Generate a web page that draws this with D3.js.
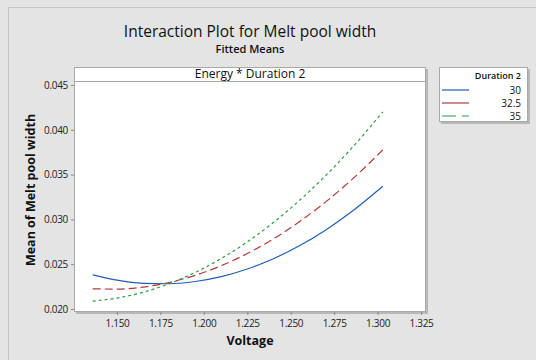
<!DOCTYPE html>
<html>
<head>
<meta charset="utf-8">
<script src="https://cdn.jsdelivr.net/npm/d3@7"></script>
<style>
  body { margin: 0; background: #e4e4e4; }
  svg { display: block; font-family: "Open Sans", "Noto Sans", sans-serif; }
</style>
</head>
<body>
<svg id="chart"></svg>
<script>
const voltage = [1.136, 1.150, 1.165, 1.180, 1.195, 1.210, 1.225, 1.240, 1.255, 1.270, 1.285, 1.303];
const dur30   = [0.02381, 0.02322, 0.02287, 0.02282, 0.02307, 0.02361, 0.02446, 0.02561, 0.02706, 0.02880, 0.03085, 0.03370];
const dur325  = [0.02225, 0.02222, 0.02245, 0.02296, 0.02376, 0.02483, 0.02619, 0.02782, 0.02974, 0.03193, 0.03441, 0.03775];
const dur35   = [0.02088, 0.02122, 0.02187, 0.02282, 0.02408, 0.02563, 0.02749, 0.02965, 0.03211, 0.03487, 0.03793, 0.04200];
const seriesNames = ["30", "32.5", "35"];
const xTicks = [1.150, 1.175, 1.200, 1.225, 1.250, 1.275, 1.300, 1.325];
const yTicks = [0.020, 0.025, 0.030, 0.035, 0.040, 0.045];

const W = 536, H = 360;
const panel = {left: 74, right: 426, top: 67, strip: 81, bottom: 312};

const svg = d3.select('#chart').attr('width', W).attr('height', H);

// outer frame
svg.append('rect').attr('x', 0).attr('y', 0).attr('width', W).attr('height', H).attr('fill', '#e4e4e4');
svg.append('path').attr('d', `M8.5,${H}V7.5H${W}`).attr('fill', 'none').attr('stroke', '#c6c6c6');

// titles
svg.append('text').attr('x', 250).attr('y', 37).attr('text-anchor', 'middle')
  .style('font-size', '15.5px').style('fill', '#111').text('Interaction Plot for Melt pool width');
svg.append('text').attr('x', 250).attr('y', 53).attr('text-anchor', 'middle')
  .style('font-size', '11px').style('font-weight', '600').style('fill', '#111').text('Fitted Means');

const x = d3.scaleLinear().domain([1.150, 1.325]).range([117, 421]);
const y = d3.scaleLinear().domain([0.020, 0.045]).range([309, 85]);

// panel
svg.append('rect').attr('x', panel.left + 2).attr('y', panel.top + 2)
  .attr('width', panel.right - panel.left).attr('height', panel.bottom - panel.top)
  .attr('fill', '#b8b8b8');
svg.append('rect').attr('x', panel.left + 0.5).attr('y', panel.top + 0.5)
  .attr('width', panel.right - panel.left - 1).attr('height', panel.bottom - panel.top - 1)
  .attr('fill', '#fff').attr('stroke', '#a8a8a8');
svg.append('line').attr('x1', panel.left).attr('x2', panel.right)
  .attr('y1', panel.strip + 0.5).attr('y2', panel.strip + 0.5).attr('stroke', '#a8a8a8');
svg.append('text').attr('x', (panel.left + panel.right) / 2).attr('y', panel.strip - 3)
  .attr('text-anchor', 'middle').style('font-size', '12px').style('fill', '#111')
  .text('Energy * Duration 2');

// axes
const xAxis = svg.append('g').attr('transform', `translate(0,${panel.bottom})`)
  .call(d3.axisBottom(x).tickValues(xTicks).tickFormat(d3.format('.3f')).tickSizeOuter(0).tickSize(3));
const yAxis = svg.append('g').attr('transform', `translate(${panel.left},0)`)
  .call(d3.axisLeft(y).tickValues(yTicks).tickFormat(d3.format('.3f')).tickSizeOuter(0).tickSize(3));
[xAxis, yAxis].forEach(g => {
  g.select('.domain').remove();
  g.selectAll('line').attr('stroke', '#888');
  g.selectAll('text').style('font-size', '10px').style('fill', '#222')
    .style('font-family', '"Open Sans", "Noto Sans", sans-serif').style('letter-spacing', '-0.3px');
});
xAxis.selectAll('text').attr('dy', '0.9em');

svg.append('text').attr('x', 250).attr('y', 345).attr('text-anchor', 'middle')
  .style('font-size', '12.5px').style('font-weight', 'bold').style('fill', '#111').text('Voltage');
svg.append('text').attr('transform', 'translate(35,190) rotate(-90)').attr('text-anchor', 'middle')
  .style('font-size', '12.5px').style('font-weight', 'bold').style('fill', '#111')
  .text('Mean of Melt pool width');

// lines
const series = [
  {name: seriesNames[0], values: dur30,  color: '#1f5fb4', dash: null},
  {name: seriesNames[1], values: dur325, color: '#b33a3a', dash: '8,4'},
  {name: seriesNames[2], values: dur35,  color: '#2f9a44', dash: '3,3'}
];
const line = d3.line().x(d => x(d[0])).y(d => y(d[1])).curve(d3.curveMonotoneX);
svg.append('g').selectAll('path').data(series).join('path')
  .attr('d', s => line(voltage.map((v, i) => [v, s.values[i]])))
  .attr('fill', 'none').attr('stroke', s => s.color).attr('stroke-width', 1.2)
  .attr('stroke-dasharray', s => s.dash);

// legend
const lg = svg.append('g');
lg.append('rect').attr('x', 441).attr('y', 69).attr('width', 89).attr('height', 55).attr('fill', '#b8b8b8');
lg.append('rect').attr('x', 439.5).attr('y', 67.5).attr('width', 88).attr('height', 54)
  .attr('fill', '#fff').attr('stroke', '#a8a8a8');
lg.append('text').attr('x', 521).attr('y', 79).attr('text-anchor', 'end')
  .style('font-size', '9px').style('font-weight', '600').style('fill', '#111').text('Duration 2');
series.forEach((s, i) => {
  const yy = 90 + i * 13;
  lg.append('line').attr('x1', 442).attr('x2', 469).attr('y1', yy).attr('y2', yy)
    .attr('stroke', s.color).attr('stroke-width', i === 1 ? 2 : 1.2)
    .attr('stroke-dasharray', s.dash ? (i === 1 ? null : '14,6') : null)
    .attr('stroke-opacity', i === 1 ? 0.6 : 1);
  lg.append('text').attr('x', 521).attr('y', yy + 3.5).attr('text-anchor', 'end')
    .style('font-size', '10px').style('fill', '#111').text(s.name);
});
</script>
</body>
</html>
